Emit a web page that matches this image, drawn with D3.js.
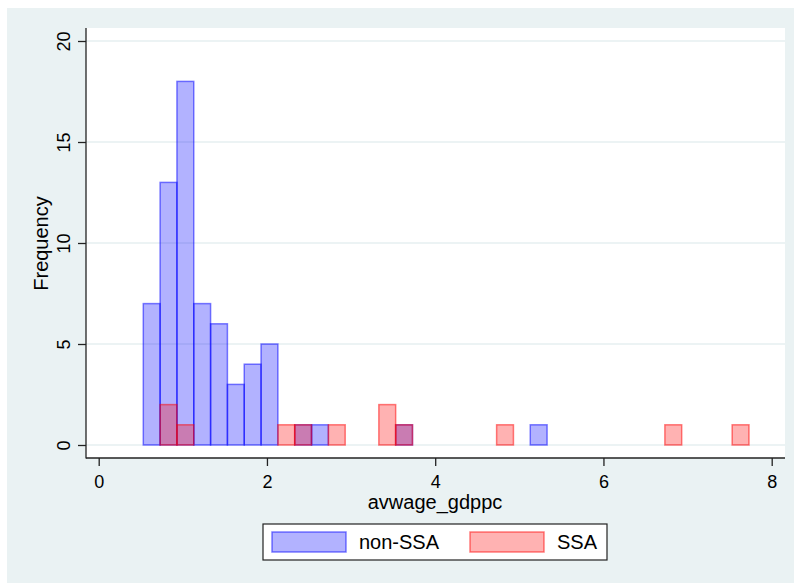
<!DOCTYPE html>
<html>
<head>
<meta charset="utf-8">
<script src="https://cdn.jsdelivr.net/npm/d3@7/dist/d3.min.js"></script>
<style>
  html, body { margin: 0; padding: 0; background: #ffffff; }
  svg { display: block; }
  text { font-family: "Liberation Sans", Arial, Helvetica, sans-serif; fill: #000; }
</style>
</head>
<body>
<div id="chart"></div>
<script>
// Histogram bins shared by both groups
const binStart = 0.53;
const binWidth = 0.2;

// Frequencies per bin (bin i covers binStart + i*binWidth .. + binWidth)
const nonSsaCounts = [7, 13, 18, 7, 6, 3, 4, 5, 0, 1, 1, 0, 0, 0, 0, 1, 0, 0, 0, 0, 0, 0, 0, 1, 0, 0, 0, 0, 0, 0, 0, 0, 0, 0, 0, 0];
const ssaCounts    = [0, 2, 1, 0, 0, 0, 0, 0, 1, 1, 0, 1, 0, 0, 2, 1, 0, 0, 0, 0, 0, 1, 0, 0, 0, 0, 0, 0, 0, 0, 0, 1, 0, 0, 0, 1];

const seriesNames = ["non-SSA", "SSA"];
const xTicks = [0, 2, 4, 6, 8];
const yTicks = [0, 5, 10, 15, 20];
const xTitle = "avwage_gdppc";
const yTitle = "Frequency";

const W = 794, H = 584;
const svg = d3.select("#chart").append("svg").attr("width", W).attr("height", H);

// Outer graph region
svg.append("rect").attr("x", 7).attr("y", 8).attr("width", W - 7).attr("height", H - 9)
  .attr("fill", "#eaf2f3");

// Plot region
const plot = { left: 86, right: 785, top: 28, bottom: 458 };
svg.append("rect").attr("x", plot.left).attr("y", plot.top)
  .attr("width", plot.right - plot.left).attr("height", plot.bottom - plot.top)
  .attr("fill", "#ffffff");

const x = d3.scaleLinear().domain([0, 8]).range([98.7, 771.7]);
const y = d3.scaleLinear().domain([0, 20]).range([445, 41]);

// Horizontal grid lines
svg.append("g").selectAll("line").data(yTicks).join("line")
  .attr("x1", plot.left).attr("x2", plot.right)
  .attr("y1", d => y(d)).attr("y2", d => y(d))
  .attr("stroke", "#e6eff1").attr("stroke-width", 1.5);

// Bars: translucent fills so overlapping bins blend
const styles = [
  { fill: "rgba(0,0,255,0.3)", stroke: "rgba(0,0,255,0.5)" },
  { fill: "rgba(255,0,0,0.3)", stroke: "rgba(255,0,0,0.5)" }
];
[nonSsaCounts, ssaCounts].forEach((counts, s) => {
  const bins = counts.map((c, i) => ({ x0: binStart + i * binWidth, x1: binStart + (i + 1) * binWidth, n: c }))
    .filter(d => d.n > 0);
  svg.append("g").selectAll("rect").data(bins).join("rect")
    .attr("x", d => x(d.x0))
    .attr("width", d => x(d.x1) - x(d.x0))
    .attr("y", d => y(d.n))
    .attr("height", d => y(0) - y(d.n))
    .attr("fill", styles[s].fill)
    .attr("stroke", styles[s].stroke)
    .attr("stroke-width", 1.5);
});

// Axis lines
svg.append("line").attr("x1", plot.left).attr("x2", plot.left)
  .attr("y1", plot.top).attr("y2", plot.bottom + 0.5)
  .attr("stroke", "#222").attr("stroke-width", 1.3);
svg.append("line").attr("x1", plot.left).attr("x2", plot.right)
  .attr("y1", plot.bottom).attr("y2", plot.bottom)
  .attr("stroke", "#222").attr("stroke-width", 1.3);

// Y axis ticks
const yAxis = d3.axisLeft(y).tickValues(yTicks).tickSize(8).tickSizeOuter(0).tickFormat(d3.format("d"));
const gy = svg.append("g").attr("transform", `translate(${plot.left},0)`).call(yAxis);
gy.select(".domain").remove();
gy.selectAll(".tick line").attr("stroke", "#222").attr("stroke-width", 1.3);
gy.selectAll(".tick text")
  .attr("x", null).attr("dy", null)
  .attr("transform", "translate(-16,0) rotate(-90)")
  .attr("text-anchor", "middle")
  .style("font-size", "18px")
  .style("font-family", "'Liberation Sans', Arial, sans-serif")
  .attr("fill", "#000");

// X axis ticks
const xAxis = d3.axisBottom(x).tickValues(xTicks).tickSize(8).tickSizeOuter(0).tickFormat(d3.format("d"));
const gx = svg.append("g").attr("transform", `translate(0,${plot.bottom})`).call(xAxis);
gx.select(".domain").remove();
gx.selectAll(".tick line").attr("stroke", "#222").attr("stroke-width", 1.3);
gx.selectAll(".tick text")
  .attr("y", 29.5).attr("dy", null)
  .style("font-size", "18px")
  .style("font-family", "'Liberation Sans', Arial, sans-serif")
  .attr("fill", "#000");

// Axis titles
svg.append("text").attr("x", 435).attr("y", 509).attr("text-anchor", "middle")
  .style("font-size", "20px").text(xTitle);
svg.append("text").attr("transform", "translate(48,243.5) rotate(-90)").attr("text-anchor", "middle")
  .style("font-size", "20px").text(yTitle);

// Legend
const lg = svg.append("g");
lg.append("rect").attr("x", 263).attr("y", 524).attr("width", 344).attr("height", 36)
  .attr("fill", "#fff").attr("stroke", "#222").attr("stroke-width", 1.2);
const legendItems = [
  { sx: 272, tx: 359 },
  { sx: 470, tx: 557 }
];
seriesNames.forEach((name, i) => {
  lg.append("rect").attr("x", legendItems[i].sx).attr("y", 532).attr("width", 74).attr("height", 20)
    .attr("fill", styles[i].fill).attr("stroke", styles[i].stroke).attr("stroke-width", 1.5);
  lg.append("text").attr("x", legendItems[i].tx).attr("y", 549)
    .style("font-size", "20px").text(name);
});
</script>
</body>
</html>
